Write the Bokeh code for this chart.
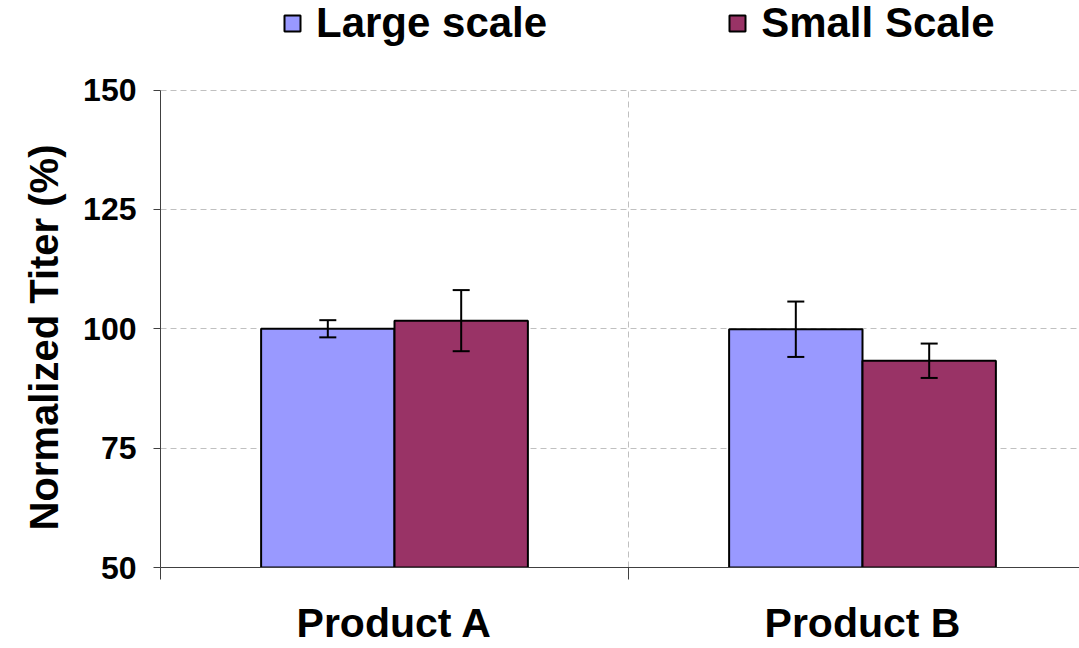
from bokeh.plotting import figure
from bokeh.models import (Range1d, FixedTicker, Whisker, ColumnDataSource, Legend,
                          LegendItem, TeeHead, Title)
from bokeh.embed import file_html
from bokeh.resources import INLINE

# ---- data ----
categories = ["Product A", "Product B"]
series_names = ["Large scale", "Small Scale"]
large_scale = [100.0, 99.9]
small_scale = [101.7, 93.3]
large_err = [1.8, 5.8]
small_err = [6.4, 3.6]
y_ticks = [50, 75, 100, 125, 150]
y_min, y_max = 50, 150
y_label = "Normalized Titer (%)"
colors = ["#9999FF", "#993366"]

FONT = "Liberation Sans"
W, H = 1079, 648
LEFT = 160
FRAME_TOP_PX, FRAME_BOTTOM_PX = 90, 570   # pixel rows of 150 and 50
BOTTOM = H - FRAME_BOTTOM_PX
cat_px = 468.0
x_end = (W - LEFT) / cat_px
px_per_unit = (FRAME_BOTTOM_PX - FRAME_TOP_PX) / (y_max - y_min)
y_end = y_min + FRAME_BOTTOM_PX / px_per_unit   # frame extends to top so legend fits

p = figure(width=W, height=H, output_backend="svg", toolbar_location=None,
           x_range=Range1d(0, x_end), y_range=Range1d(y_min, y_end),
           min_border_left=LEFT, min_border_top=0, min_border_bottom=BOTTOM,
           min_border_right=0)
p.outline_line_color = None
p.background_fill_color = "white"

centers = [i + 0.5 for i in range(len(categories))]
bw = 0.285
xs_large = [c - bw / 2 for c in centers]
xs_small = [c + bw / 2 for c in centers]

src_l = ColumnDataSource(dict(x=xs_large, top=large_scale,
                              up=[v + e for v, e in zip(large_scale, large_err)],
                              lo=[v - e for v, e in zip(large_scale, large_err)]))
src_s = ColumnDataSource(dict(x=xs_small, top=small_scale,
                              up=[v + e for v, e in zip(small_scale, small_err)],
                              lo=[v - e for v, e in zip(small_scale, small_err)]))

r1 = p.vbar(x="x", top="top", bottom=y_min, width=bw, source=src_l,
            fill_color=colors[0], line_color="black", line_width=2)
r2 = p.vbar(x="x", top="top", bottom=y_min, width=bw, source=src_s,
            fill_color=colors[1], line_color="black", line_width=2)

for src in (src_l, src_s):
    w = Whisker(base="x", upper="up", lower="lo", source=src, line_width=2,
                line_color="black", level="annotation",
                upper_head=TeeHead(size=17, line_width=2, line_color="black"),
                lower_head=TeeHead(size=17, line_width=2, line_color="black"))
    p.add_layout(w)

# axes
xa = p.xaxis[0]
xa.ticker = FixedTicker(ticks=centers, minor_ticks=[0, 1, 2])
xa.major_label_overrides = {c: n for c, n in zip(centers, categories)}
xa.major_tick_line_color = None
xa.major_tick_out = 12
xa.major_tick_in = 0
xa.minor_tick_line_color = "#404040"
xa.minor_tick_out = 12
xa.minor_tick_in = 0
xa.minor_tick_line_width = 1
xa.major_label_standoff = 20
xa.major_label_text_font = FONT
xa.major_label_text_font_style = "bold"
xa.major_label_text_font_size = "41px"
xa.major_label_text_color = "black"
xa.axis_line_color = "#404040"
xa.axis_line_width = 1

ya = p.yaxis[0]
ya.bounds = (y_min, y_max)
ya.ticker = FixedTicker(ticks=y_ticks)
ya.major_tick_out = 7
ya.major_tick_in = 0
ya.minor_tick_line_color = None
ya.major_tick_line_color = "#404040"
ya.axis_line_color = "#404040"
ya.major_label_standoff = 17
ya.major_label_text_font = FONT
ya.major_label_text_font_style = "bold"
ya.major_label_text_font_size = "32px"
ya.major_label_text_color = "black"

ytitle = Title(text=y_label, align="left", offset=37, standoff=30,
               text_font=FONT, text_font_style="bold", text_font_size="40px",
               text_color="black")
p.add_layout(ytitle, "left")

p.ygrid.ticker = FixedTicker(ticks=y_ticks[1:])
p.ygrid.grid_line_color = "#C0C0C0"
p.ygrid.grid_line_dash = "6 4"
p.xgrid.ticker = FixedTicker(ticks=[1])
p.xgrid.grid_line_color = "#C0C0C0"
p.xgrid.grid_line_dash = "6 4"
p.xgrid.cross_bounds = (y_min, y_max)

legend = Legend(items=[LegendItem(label=series_names[0], renderers=[r1]),
                       LegendItem(label=series_names[1], renderers=[r2])],
                orientation="horizontal", location=(122, 520),
                label_text_font=FONT, label_text_font_style="bold",
                label_text_font_size="42px", label_text_color="black",
                glyph_width=20, glyph_height=20, label_standoff=14,
                spacing=180, padding=0, margin=0,
                border_line_color=None, background_fill_alpha=0)
p.add_layout(legend)

open("out.html", "w").write(file_html(p, INLINE))
